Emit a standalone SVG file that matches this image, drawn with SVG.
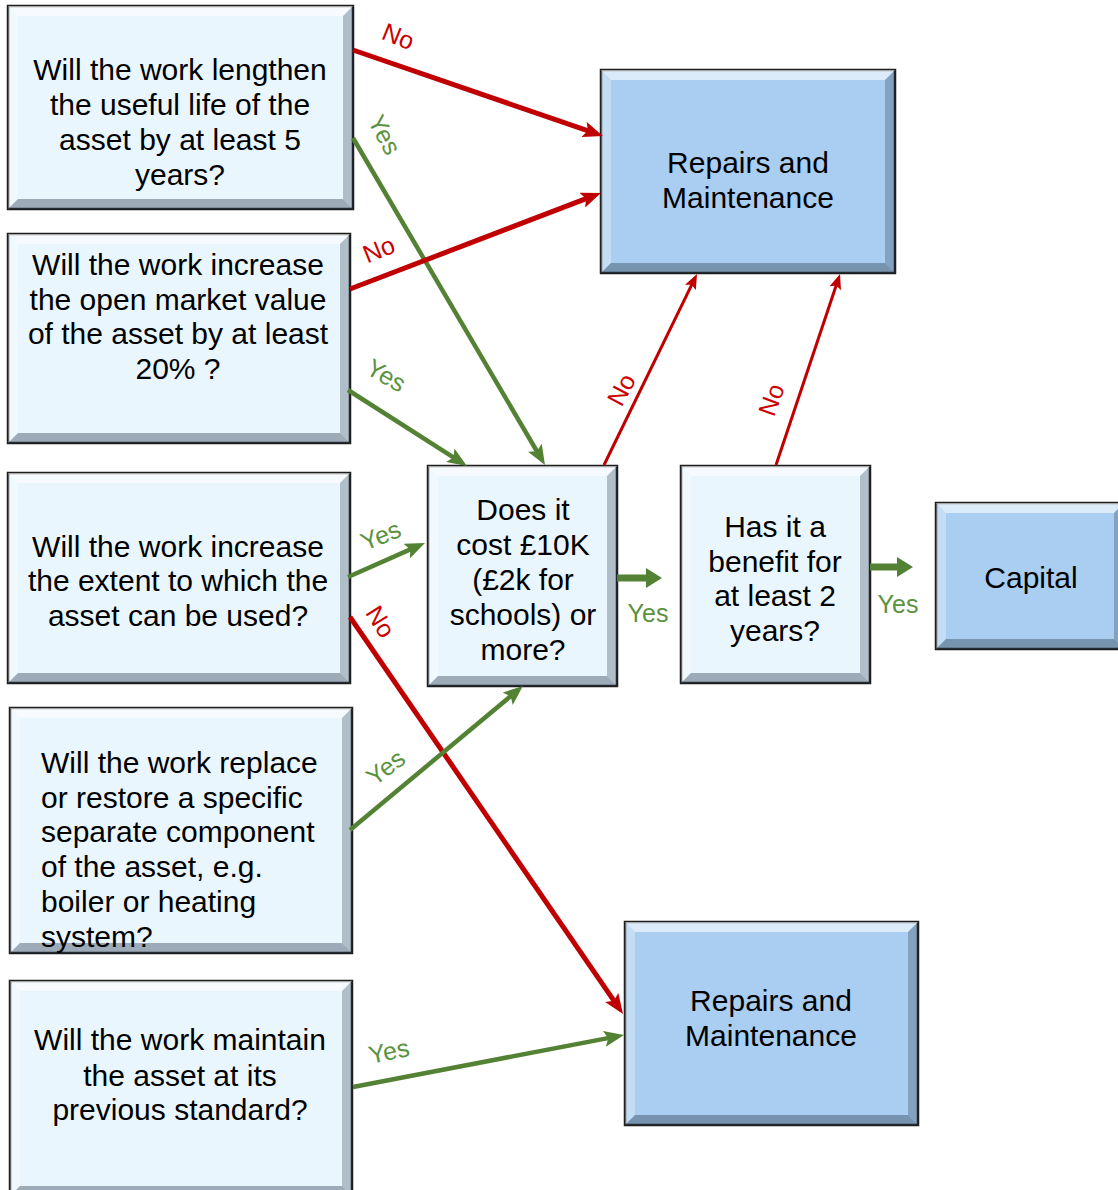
<svg xmlns="http://www.w3.org/2000/svg" width="1118" height="1190" viewBox="0 0 1118 1190">
<style>
.q{fill:#eaf6fe;stroke:#1e1e1e;stroke-width:2.5}
.o{fill:#a9cef1;stroke:#1e1e1e;stroke-width:2.5}
.bt{fill:#ffffff;fill-opacity:0.6}
.bl{fill:#ffffff;fill-opacity:0.3}
.br{fill:#2a3c50;fill-opacity:0.3}
.bb{fill:#2a3c50;fill-opacity:0.4}
.t{font-family:"Liberation Sans",Arial,sans-serif;font-size:30px;fill:#000;text-anchor:middle}
.tl{font-family:"Liberation Sans",Arial,sans-serif;font-size:30px;fill:#000}
.lr{font-family:"Liberation Sans",Arial,sans-serif;font-size:25px;fill:#cc0000;text-anchor:middle}
.lg{font-family:"Liberation Sans",Arial,sans-serif;font-size:25px;fill:#5b9240;text-anchor:middle}
.red{stroke:#c00000;stroke-width:5;fill:none}
.redt{stroke:#c00000;stroke-width:3;fill:none}
.grn{stroke:#548235;stroke-width:4.5;fill:none}
.grnb{stroke:#548235;stroke-width:7;fill:none}
</style>
<defs>
<marker id="aR" viewBox="0 0 20 16" refX="9" refY="8" markerWidth="20" markerHeight="16" markerUnits="userSpaceOnUse" orient="auto"><path d="M0,0 L20,8 L0,16 L4,8 z" fill="#c00000"/></marker>
<marker id="aG" viewBox="0 0 20 16" refX="9" refY="8" markerWidth="20" markerHeight="16" markerUnits="userSpaceOnUse" orient="auto"><path d="M0,0 L20,8 L0,16 L4,8 z" fill="#548235"/></marker>
<marker id="aRt" viewBox="0 0 15 12" refX="7" refY="6" markerWidth="15" markerHeight="12" markerUnits="userSpaceOnUse" orient="auto"><path d="M0,0 L15,6 L0,12 L3,6 z" fill="#c00000"/></marker>
<marker id="aGb" viewBox="0 0 16 20" refX="6" refY="10" markerWidth="16" markerHeight="20" markerUnits="userSpaceOnUse" orient="auto"><path d="M0,0 L16,10 L0,20 z" fill="#548235"/></marker>
</defs>
<rect x="0" y="0" width="1118" height="1190" fill="#ffffff"/>

<g id="q1">
<rect class="q" x="8" y="6" width="345" height="203"/>
<polygon class="bt" points="8,6 353,6 343,16 18,16"/>
<polygon class="bl" points="8,6 18,16 18,199 8,209"/>
<polygon class="br" points="353,6 353,209 343,199 343,16"/>
<polygon class="bb" points="8,209 18,199 343,199 353,209"/>
<text class="t"><tspan x="180" y="80">Will the work lengthen</tspan><tspan x="180" y="115">the useful life of the</tspan><tspan x="180" y="150">asset by at least 5</tspan><tspan x="180" y="185">years?</tspan></text>
</g>

<g id="q2">
<rect class="q" x="8" y="234" width="342" height="209"/>
<polygon class="bt" points="8,234 350,234 340,244 18,244"/>
<polygon class="bl" points="8,234 18,244 18,433 8,443"/>
<polygon class="br" points="350,234 350,443 340,433 340,244"/>
<polygon class="bb" points="8,443 18,433 340,433 350,443"/>
<text class="t"><tspan x="178" y="275">Will the work increase</tspan><tspan x="178" y="310">the open market value</tspan><tspan x="178" y="344">of the asset by at least</tspan><tspan x="178" y="379">20% ?</tspan></text>
</g>

<g id="q3">
<rect class="q" x="8" y="473" width="342" height="210"/>
<polygon class="bt" points="8,473 350,473 340,483 18,483"/>
<polygon class="bl" points="8,473 18,483 18,673 8,683"/>
<polygon class="br" points="350,473 350,683 340,673 340,483"/>
<polygon class="bb" points="8,683 18,673 340,673 350,683"/>
<text class="t"><tspan x="178" y="557">Will the work increase</tspan><tspan x="178" y="591">the extent to which the</tspan><tspan x="178" y="626">asset can be used?</tspan></text>
</g>

<g id="q4">
<rect class="q" x="10" y="708" width="342" height="245"/>
<polygon class="bt" points="10,708 352,708 342,718 20,718"/>
<polygon class="bl" points="10,708 20,718 20,943 10,953"/>
<polygon class="br" points="352,708 352,953 342,943 342,718"/>
<polygon class="bb" points="10,953 20,943 342,943 352,953"/>
<text class="tl"><tspan x="41" y="773">Will the work replace</tspan><tspan x="41" y="808">or restore a specific</tspan><tspan x="41" y="842">separate component</tspan><tspan x="41" y="877">of the asset, e.g.</tspan><tspan x="41" y="912">boiler or heating</tspan><tspan x="41" y="947">system?</tspan></text>
</g>

<g id="q5">
<rect class="q" x="10" y="981" width="342" height="215"/>
<polygon class="bt" points="10,981 352,981 342,991 20,991"/>
<polygon class="bl" points="10,981 20,991 20,1186 10,1196"/>
<polygon class="br" points="352,981 352,1196 342,1186 342,991"/>
<polygon class="bb" points="10,1196 20,1186 342,1186 352,1196"/>
<text class="t"><tspan x="180" y="1050">Will the work maintain</tspan><tspan x="180" y="1086">the asset at its</tspan><tspan x="180" y="1120">previous standard?</tspan></text>
</g>

<g id="cost">
<rect class="q" x="428" y="466" width="189" height="220"/>
<polygon class="bt" points="428,466 617,466 607,476 438,476"/>
<polygon class="bl" points="428,466 438,476 438,676 428,686"/>
<polygon class="br" points="617,466 617,686 607,676 607,476"/>
<polygon class="bb" points="428,686 438,676 607,676 617,686"/>
<text class="t"><tspan x="523" y="520">Does it</tspan><tspan x="523" y="555">cost £10K</tspan><tspan x="523" y="590">(£2k for</tspan><tspan x="523" y="625">schools) or</tspan><tspan x="523" y="660">more?</tspan></text>
</g>

<g id="benefit">
<rect class="q" x="681" y="466" width="189" height="217"/>
<polygon class="bt" points="681,466 870,466 860,476 691,476"/>
<polygon class="bl" points="681,466 691,476 691,673 681,683"/>
<polygon class="br" points="870,466 870,683 860,673 860,476"/>
<polygon class="bb" points="681,683 691,673 860,673 870,683"/>
<text class="t"><tspan x="775" y="537">Has it a</tspan><tspan x="775" y="572">benefit for</tspan><tspan x="775" y="606">at least 2</tspan><tspan x="775" y="641">years?</tspan></text>
</g>

<g id="capital">
<rect class="o" x="936" y="503" width="188" height="146"/>
<polygon class="bt" points="936,503 1124,503 1114,513 946,513"/>
<polygon class="bl" points="936,503 946,513 946,639 936,649"/>
<polygon class="br" points="1124,503 1124,649 1114,639 1114,513"/>
<polygon class="bb" points="936,649 946,639 1114,639 1124,649"/>
<text class="t" x="1031" y="588">Capital</text>
</g>

<g id="rm1">
<rect class="o" x="601" y="70" width="294" height="203"/>
<polygon class="bt" points="601,70 895,70 885,80 611,80"/>
<polygon class="bl" points="601,70 611,80 611,263 601,273"/>
<polygon class="br" points="895,70 895,273 885,263 885,80"/>
<polygon class="bb" points="601,273 611,263 885,263 895,273"/>
<text class="t"><tspan x="748" y="173">Repairs and</tspan><tspan x="748" y="208">Maintenance</tspan></text>
</g>

<g id="rm2">
<rect class="o" x="625" y="922" width="293" height="203"/>
<polygon class="bt" points="625,922 918,922 908,932 635,932"/>
<polygon class="bl" points="625,922 635,932 635,1115 625,1125"/>
<polygon class="br" points="918,922 918,1125 908,1115 908,932"/>
<polygon class="bb" points="625,1125 635,1115 908,1115 918,1125"/>
<text class="t"><tspan x="771" y="1011">Repairs and</tspan><tspan x="771" y="1046">Maintenance</tspan></text>
</g>

<g id="connectors">
<line class="red" x1="353" y1="50" x2="592.6" y2="132.4" marker-end="url(#aR)"/>
<line class="grn" x1="353" y1="138" x2="539.4" y2="455.5" marker-end="url(#aG)"/>
<line class="red" x1="350" y1="289" x2="590.7" y2="196.9" marker-end="url(#aR)"/>
<line class="grn" x1="348" y1="390" x2="457.7" y2="460.1" marker-end="url(#aG)"/>
<line class="grn" x1="348" y1="577" x2="414.9" y2="547.4" marker-end="url(#aG)"/>
<line class="red" x1="350" y1="617" x2="616.8" y2="1004.9" marker-end="url(#aR)"/>
<line class="grn" x1="350" y1="830" x2="514.5" y2="693" marker-end="url(#aG)"/>
<line class="grn" x1="353" y1="1087" x2="613.2" y2="1037.1" marker-end="url(#aG)"/>
<line class="redt" x1="604" y1="465" x2="693.5" y2="281.2" marker-end="url(#aRt)"/>
<line class="redt" x1="776" y1="465" x2="837.5" y2="281.6" marker-end="url(#aRt)"/>
<line class="grnb" x1="617" y1="578" x2="652" y2="578" marker-end="url(#aGb)"/>
<line class="grnb" x1="870" y1="567" x2="903" y2="567" marker-end="url(#aGb)"/>
<text class="lr" transform="translate(398,37) rotate(22)" y="8">No</text>
<text class="lg" transform="translate(384,135) rotate(62)" y="8">Yes</text>
<text class="lr" transform="translate(379,250) rotate(-22)" y="8">No</text>
<text class="lg" transform="translate(386,376) rotate(30)" y="8">Yes</text>
<text class="lg" transform="translate(381,536) rotate(-22)" y="8">Yes</text>
<text class="lr" transform="translate(380,622) rotate(58)" y="8">No</text>
<text class="lg" transform="translate(386,768) rotate(-38)" y="8">Yes</text>
<text class="lg" transform="translate(389,1052) rotate(-12)" y="8">Yes</text>
<text class="lr" transform="translate(622,390) rotate(-62)" y="8">No</text>
<text class="lr" transform="translate(772,400) rotate(-70)" y="8">No</text>
<text class="lg" x="648" y="622">Yes</text>
<text class="lg" x="898" y="613">Yes</text>
</g>
</svg>
